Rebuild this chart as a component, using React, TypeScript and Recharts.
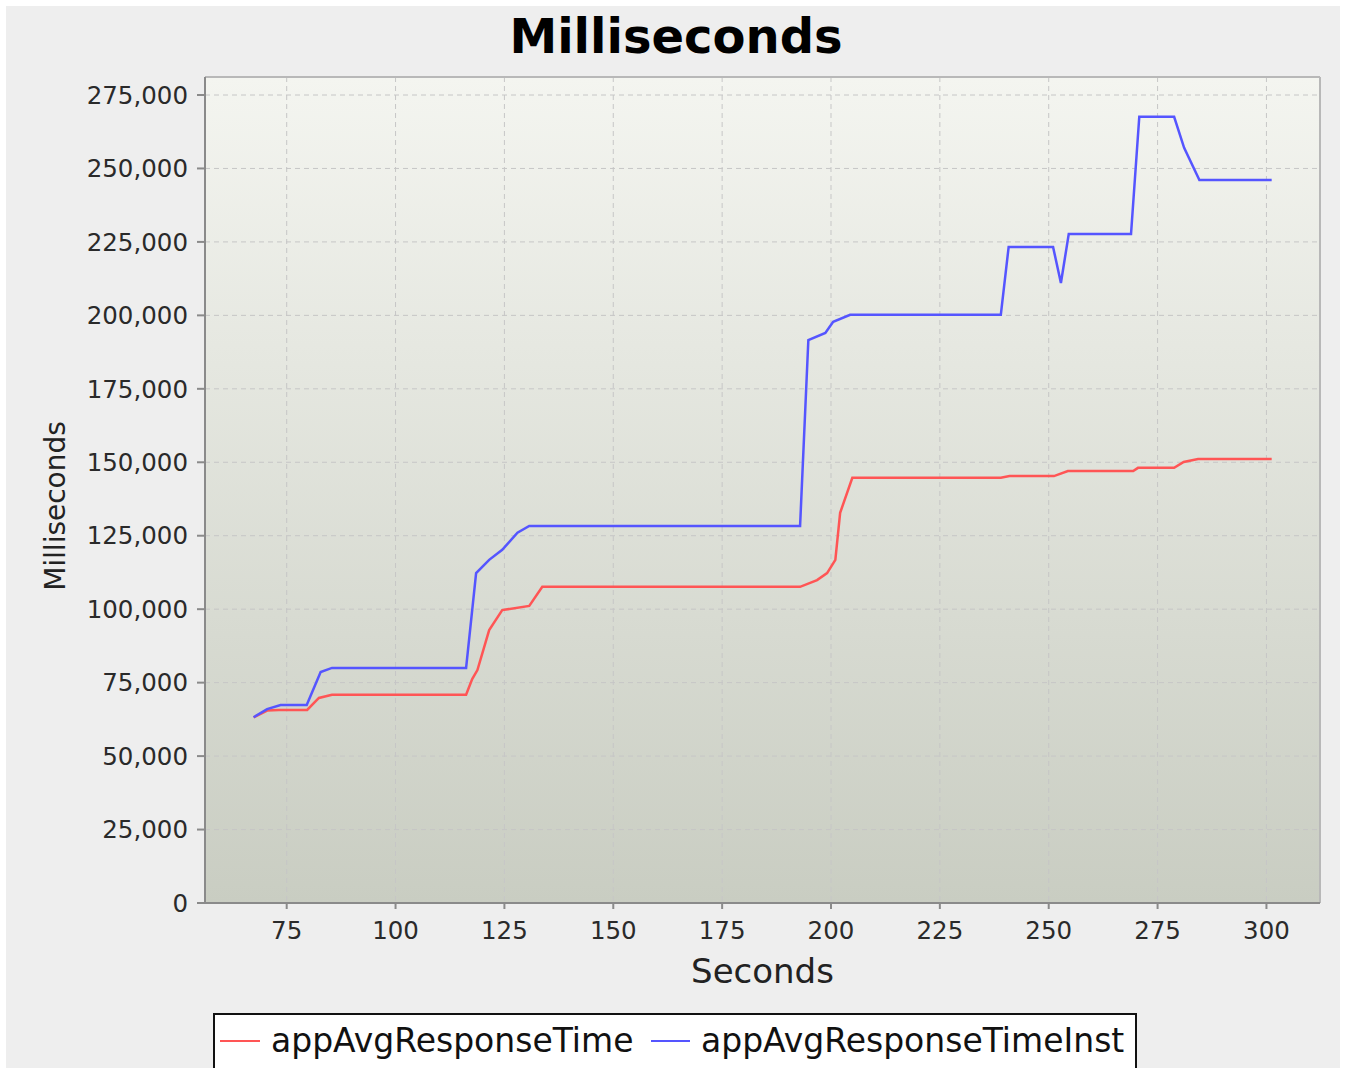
import React from 'react';
import { LineChart, Line, XAxis, YAxis, CartesianGrid, ReferenceLine, Label } from 'recharts';

const FONT = '"DejaVu Sans", sans-serif';

const xTicks = [75, 100, 125, 150, 175, 200, 225, 250, 275, 300];
const yTicks = [0, 25000, 50000, 75000, 100000, 125000, 150000, 175000, 200000, 225000, 250000, 275000];
const xDomain = [56.24, 312.3];
const yDomain = [0, 281127];

const redSeconds = [67.4, 70.5, 73.2, 79.7, 82.4, 85.4, 116.2, 117.6, 118.8, 121.5, 124.5, 130.7, 133.7, 192.9, 196.8, 199.1, 201.0, 202.1, 204.9, 239.0, 241.0, 251.2, 254.4, 269.4, 270.5, 278.8, 281.0, 284.3, 301.2];
const redMs = [63200, 65500, 65700, 65700, 69800, 70900, 70900, 76200, 79300, 92900, 99700, 101100, 107600, 107600, 109900, 112300, 116800, 132800, 144700, 144700, 145300, 145300, 147000, 147000, 148100, 148100, 150100, 151100, 151100];

const blueSeconds = [67.4, 70.5, 73.6, 79.6, 82.8, 85.4, 116.2, 118.5, 121.5, 124.5, 128.0, 130.7, 192.9, 194.8, 198.7, 200.5, 204.4, 239.0, 240.8, 251.0, 252.8, 254.6, 268.9, 270.8, 278.8, 281.1, 284.6, 301.2];
const blueMs = [63200, 66000, 67400, 67400, 78600, 80000, 80000, 112300, 116800, 120200, 126000, 128300, 128300, 191600, 194000, 197800, 200200, 200200, 223300, 223300, 211000, 227700, 227700, 267600, 267600, 257000, 246100, 246100];

const seriesNames = ['appAvgResponseTime', 'appAvgResponseTimeInst'];
const seriesColors = ['#ff5555', '#5555ff'];

const redData = redSeconds.map((s, i) => ({ s, v: redMs[i] }));
const blueData = blueSeconds.map((s, i) => ({ s, v: blueMs[i] }));

const fmt = (v: number) => v.toLocaleString('en-US');

export default function App() {
  return (
    <div style={{ position: 'absolute', left: 6, top: 6, width: 1334, height: 1062, background: '#eeeeee', overflow: 'hidden' }}>
      <LineChart width={1334} height={1062} margin={{ top: 71, right: 20, left: 0, bottom: 105 }}>
        <defs>
          <linearGradient id="plotBg" x1="0" y1="0" x2="0" y2="1">
            <stop offset="0%" stopColor="#f4f5f0" />
            <stop offset="100%" stopColor="#c9cdc2" />
          </linearGradient>
        </defs>
        <CartesianGrid fill="url(#plotBg)" fillOpacity={1} stroke="#c6c6c6" strokeDasharray="5 4" strokeWidth={1} />
        <XAxis
          type="number"
          dataKey="s"
          domain={xDomain}
          ticks={xTicks}
          allowDataOverflow
          height={60}
          tickSize={6}
          tickMargin={13}
          stroke="#8a8a8a"
          axisLine={{ stroke: '#8a8a8a', strokeWidth: 2 }}
          tickLine={{ stroke: '#8a8a8a', strokeWidth: 2 }}
          tick={{ fontSize: 24.5, fill: '#2a2a2a', fontFamily: FONT }}
        >
          <Label
            content={(props: any) => {
              const vb = props.viewBox || { x: 199, y: 897, width: 1115 };
              return (
                <text x={vb.x + vb.width / 2} y={vb.y + 80} textAnchor="middle" fontSize={34} fontFamily={FONT} fill="#222222">
                  Seconds
                </text>
              );
            }}
          />
        </XAxis>
        <YAxis
          type="number"
          domain={yDomain}
          ticks={yTicks}
          allowDataOverflow
          width={199}
          tickSize={8}
          tickMargin={9}
          tickFormatter={fmt}
          stroke="#8a8a8a"
          axisLine={{ stroke: '#8a8a8a', strokeWidth: 2 }}
          tickLine={{ stroke: '#8a8a8a', strokeWidth: 2 }}
          tick={{ fontSize: 24.5, fill: '#2a2a2a', fontFamily: FONT }}
        >
          <Label
            content={(props: any) => {
              const vb = props.viewBox || { x: 0, y: 71, width: 199, height: 826 };
              const cx = vb.x + 59;
              const cy = vb.y + vb.height / 2 + 16;
              return (
                <text x={cx} y={cy} transform={`rotate(-90 ${cx} ${cy})`} textAnchor="middle" fontSize={28} fontFamily={FONT} fill="#222222">
                  Milliseconds
                </text>
              );
            }}
          />
        </YAxis>
        <ReferenceLine y={yDomain[1]} stroke="#b8b8b8" strokeWidth={2} />
        <ReferenceLine x={xDomain[1]} stroke="#b8b8b8" strokeWidth={2} />
        <Line data={redData} dataKey="v" name={seriesNames[0]} type="linear" stroke={seriesColors[0]} strokeWidth={2.5} dot={false} isAnimationActive={false} />
        <Line data={blueData} dataKey="v" name={seriesNames[1]} type="linear" stroke={seriesColors[1]} strokeWidth={2.5} dot={false} isAnimationActive={false} />
      </LineChart>
      <svg width={1334} height={1062} style={{ position: 'absolute', left: 0, top: 0, pointerEvents: 'none' }}>
        <text x={670} y={47} textAnchor="middle" fontSize={48} fontWeight="bold" fontFamily={FONT} fill="#000000">
          Milliseconds
        </text>
        <g transform="translate(207,1007)">
          <rect x={1} y={1} width={922} height={80} fill="#ffffff" stroke="#111111" strokeWidth={2} />
          <line x1={7} x2={47} y1={28} y2={28} stroke={seriesColors[0]} strokeWidth={2} />
          <text x={58} y={39} fontSize={33} fontFamily={FONT} fill="#111111">{seriesNames[0]}</text>
          <line x1={438} x2={477} y1={28} y2={28} stroke={seriesColors[1]} strokeWidth={2} />
          <text x={488} y={39} fontSize={33} fontFamily={FONT} fill="#111111">{seriesNames[1]}</text>
        </g>
      </svg>
    </div>
  );
}
